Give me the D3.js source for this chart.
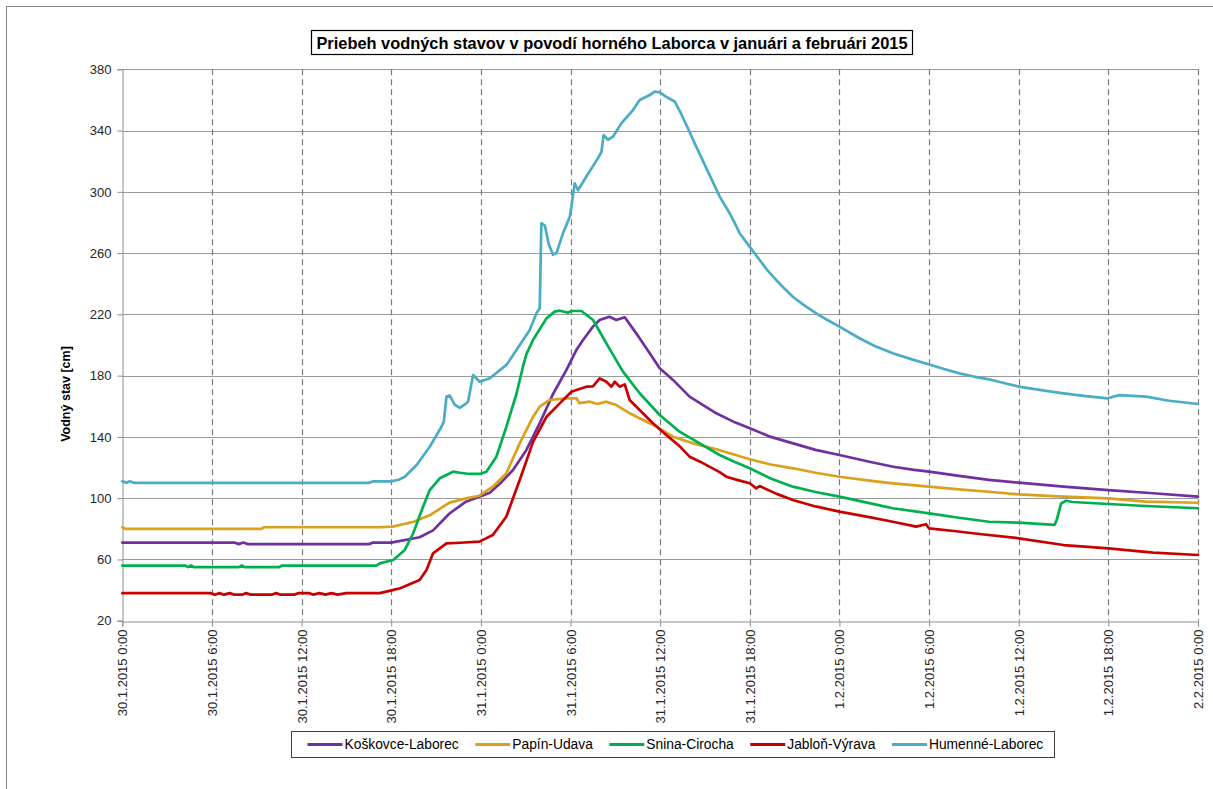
<!DOCTYPE html>
<html>
<head>
<meta charset="utf-8">
<script src="https://cdn.jsdelivr.net/npm/d3@7/dist/d3.min.js"></script>
<style>
  body { margin: 0; background: #fff; }
  svg { display: block; font-family: "Liberation Sans", Arial, sans-serif; }
</style>
</head>
<body>
<svg id="chart" width="1213" height="789"></svg>
<script>
// Water levels [cm] in the upper Laborec basin, 30.1.2015 0:00 – 2.2.2015 0:00.
// Each series: [hours since 30.1.2015 0:00, level in cm].
const chartTitle = "Priebeh vodných stavov v povodí horného Laborca v januári a februári 2015";
const yAxisTitle = "Vodný stav [cm]";

const timeLabels = [
  "30.1.2015 0:00", "30.1.2015 6:00", "30.1.2015 12:00", "30.1.2015 18:00",
  "31.1.2015 0:00", "31.1.2015 6:00", "31.1.2015 12:00", "31.1.2015 18:00",
  "1.2.2015 0:00", "1.2.2015 6:00", "1.2.2015 12:00", "1.2.2015 18:00",
  "2.2.2015 0:00"
];
const tickHours = [0, 6, 12, 18, 24, 30, 36, 42, 48, 54, 60, 66, 72];
const levelTicks = [20, 60, 100, 140, 180, 220, 260, 300, 340, 380];

const seriesNames = ["Koškovce-Laborec", "Papín-Udava", "Snina-Cirocha", "Jabloň-Výrava", "Humenné-Laborec"];
const seriesColors = ["#7030A0", "#D9A11C", "#00B050", "#C80000", "#4BACC6"];

const koskovce = [
  [0,71],[7.5,71],[7.8,70],[8.1,71],[8.4,70],[16.5,70],[16.8,71],[18,71],[19.9,74.5],[20.8,79],
  [21.9,90],[23,97.7],[23.9,101],[24.6,103.6],[25.3,109.7],[26.15,118.4],[27.05,131.5],[27.94,149],
  [28.83,168],[29.73,183.7],[30.39,196.7],[30.84,203.3],[31.5,212],[31.95,216.3],[32.6,218.5],
  [33.07,216.3],[33.63,218.1],[34.4,207.6],[35.3,194.6],[35.97,184.8],[36.86,177.2],[37.97,166.3],
  [39.76,155.4],[41,149.5],[42,145.6],[43.4,140],[44.9,135.8],[46.4,131.5],[48,128.2],[50,123.8],
  [51.6,120.5],[53,118.5],[54,117.3],[56,114.5],[58,111.9],[60,110.1],[63,107.5],[66,105.3],
  [69,103.2],[72,101]
];

const papin = [
  [0,81],[0.2,80],[9.3,80],[9.5,81],[17.2,81],[18.1,81.4],[19.5,84.6],[20.6,89],[21.9,97.1],
  [23,99.9],[23.9,101.6],[24.8,107.5],[25.7,116.2],[26.6,135.8],[27.5,153.2],[27.94,159.7],
  [28.6,164.1],[29.7,165.2],[30.4,165.2],[30.6,162],[31.3,163],[31.8,161.5],[32.4,163],
  [33.07,160.8],[33.96,155.4],[34.85,151],[35.75,146.7],[36.86,140.1],[38.2,135.8],[39.76,131.9],
  [41,128.3],[42,125.4],[43.4,122],[44.9,119.5],[46.4,116.6],[48,114],[50,111.5],[51.6,109.7],
  [54,107.5],[56,105.8],[58,104.2],[60,102.5],[63,101],[66,99.9],[68.5,97.7],[72,97]
];

const snina = [
  [0,56],[4.2,56],[4.4,55],[4.6,56],[4.8,55],[7.8,55],[8,56],[8.2,55],[10.5,55],[10.7,56],[17,56],
  [17.24,57.4],[18.13,59.6],[18.91,66.2],[19.47,77.1],[20.13,94.4],[20.58,105.3],[21.25,113],
  [22.14,117.3],[22.59,116.6],[23.26,115.8],[23.92,115.8],[24.37,117.3],[25.04,127.1],[25.71,146.7],
  [26.38,168],[26.82,186],[27.05,194],[27.49,203.3],[28.39,217.4],[28.94,221.8],[29.28,222.4],
  [29.83,221.1],[30.06,222.2],[30.73,222.2],[31.51,216.3],[32.4,201.1],[33.51,182.6],[34.63,168.5],
  [35.97,154.3],[37.3,143.4],[38.64,135.8],[39.98,128.2],[41,123.6],[42,119.5],[43.4,112.8],
  [44.88,107.5],[46.4,104],[48,101],[50,96.8],[51.57,93.4],[54,90.1],[56,87.2],[58,84.6],[60,84],
  [62.4,82.5],[62.54,85.7],[62.84,96.6],[63.17,98.3],[63.6,97.5],[66,96.2],[68.5,94.9],[72,93.4]
];

const jablon = [
  [0,38],[5.9,38],[6.2,37],[6.5,38],[6.8,37],[7.2,38],[7.5,37],[8,37],[8.3,38],[8.6,37],[10,37],
  [10.3,38],[10.6,37],[11.5,37],[11.8,38],[12.5,38],[12.8,37],[13.2,38],[13.6,37],[14,38],[14.4,37],
  [15,38],[17.24,38],[17.95,39.6],[18.6,41.2],[19.9,46.6],[20.36,53.1],[20.8,64],[21.7,70.5],
  [22.6,70.9],[23.9,71.6],[24.8,76],[25.7,87.9],[26.6,111.9],[27.5,136.9],[28.4,153.2],[29.28,161.9],
  [30.06,169.5],[30.4,170.6],[31.06,172.8],[31.5,173],[31.95,178.2],[32.4,176],[32.74,172.8],
  [32.96,176],[33.29,172.8],[33.63,174.3],[33.96,164.1],[34.63,157.6],[35.52,148.9],[36.41,141.2],
  [37.3,134],[37.97,127.1],[38.64,124],[39.98,117],[40.43,114],[41.2,111.8],[42,109.7],[42.43,106.4],
  [42.66,107.9],[43.8,102.8],[44.88,98.8],[46.4,94.6],[48,91.2],[50,87.6],[51.57,84.6],[53.14,81.4],
  [53.8,83],[54,80.3],[55.8,78.4],[57.37,76.6],[60,73.8],[63,69.4],[66,67.2],[69,64.4],[72,62.9]
];

const humenne = [
  [0,111],[0.3,110],[0.5,111],[0.8,110],[16.5,110],[16.8,111],[18,111],[18.5,112],[18.91,114],
  [19.7,121.7],[20.58,133.6],[21.36,146.6],[21.52,150],[21.7,166.3],[21.92,167],[22.25,161],
  [22.59,159],[22.9,161],[23.14,163],[23.48,180.4],[23.92,176],[24.6,178.3],[25.71,187],[26.38,196.7],
  [27.27,209.8],[27.72,220.7],[27.94,224],[28.05,279.5],[28.28,278],[28.54,266],[28.83,259],
  [29.06,260],[29.5,273],[29.95,283.8],[30.06,290.3],[30.28,305.6],[30.5,301],[31.06,310],
  [31.84,322],[32.07,326],[32.22,337],[32.51,334],[32.84,336],[33.4,344.7],[34.18,353.4],
  [34.63,360],[35.3,363.2],[35.63,365.4],[35.97,365],[36.41,362],[36.97,359],[37.4,351],[37.86,341.5],
  [38.31,331.7],[39.09,315.5],[39.98,297],[40.65,286],[41.0,279.5],[41.32,273],[41.99,264.2],
  [42.66,255.5],[43.2,248.5],[43.77,242.4],[44.3,237],[44.88,231.5],[45.6,226.2],[46.45,220.7],
  [47.2,216.3],[48,212],[49.34,204.4],[50.4,199.2],[51.57,194.6],[52.8,190.8],[53.96,187.4],
  [55,184.3],[56.03,181.5],[57,179.4],[58,177.6],[59,175.2],[60,172.8],[61.5,170.5],[63,168.4],
  [64.5,166.6],[65.95,165.2],[66.73,167.3],[68.52,166.3],[70.07,163.6],[72,161.5]
];

const seriesData = [koskovce, papin, snina, jablon, humenne];

const svg = d3.select("#chart");
const plot = { left: 122.3, right: 1198, top: 69.3, bottom: 620.7 };

const x = d3.scaleLinear().domain([0, 72]).range([plot.left, plot.right]);
const y = d3.scaleLinear().domain([20, 380]).range([plot.bottom, plot.top]);

// Outer chart frame (only its top and left edges fall inside the page)
svg.append("rect")
  .attr("x", 6.5).attr("y", 6.5).attr("width", 1300).attr("height", 900)
  .attr("fill", "#fff").attr("stroke", "#868686").attr("stroke-width", 1);

// Horizontal gridlines
svg.append("g").selectAll("line")
  .data(levelTicks.filter(v => v !== 20))
  .join("line")
  .attr("x1", plot.left).attr("x2", plot.right)
  .attr("y1", d => Math.round(y(d)) + 0.5).attr("y2", d => Math.round(y(d)) + 0.5)
  .attr("stroke", "#9a9a9a").attr("stroke-width", 1);

// Vertical dashed gridlines
svg.append("g").selectAll("line")
  .data(tickHours.filter(h => h !== 0))
  .join("line")
  .attr("x1", d => Math.round(x(d)) + 0.5).attr("x2", d => Math.round(x(d)) + 0.5)
  .attr("y1", plot.top).attr("y2", plot.bottom)
  .attr("stroke", "#7a7a7a").attr("stroke-width", 1.2)
  .attr("stroke-dasharray", "6,4");

// Y axis
const yAxis = svg.append("g")
  .attr("transform", `translate(${Math.round(plot.left) + 0.5},0)`)
  .call(d3.axisLeft(y).tickValues(levelTicks).tickSize(5).tickPadding(6).tickFormat(d3.format("d")));
yAxis.select(".domain").attr("stroke", "#8c8c8c");
yAxis.selectAll(".tick line").attr("stroke", "#8c8c8c");
yAxis.selectAll(".tick text")
  .attr("fill", "#262626").style("font-size", "13px")
  .style("font-family", "'Liberation Sans', Arial, sans-serif");

// X axis with rotated date labels
const xAxis = svg.append("g")
  .attr("transform", `translate(0,${Math.round(plot.bottom) + 0.5})`)
  .call(d3.axisBottom(x).tickValues(tickHours).tickSize(5)
    .tickFormat((d, i) => timeLabels[i]));
xAxis.select(".domain").attr("stroke", "#8c8c8c");
xAxis.selectAll(".tick line").attr("stroke", "#8c8c8c");
xAxis.selectAll(".tick text")
  .attr("fill", "#262626").style("font-size", "13px")
  .style("font-family", "'Liberation Sans', Arial, sans-serif")
  .attr("transform", "rotate(-90)")
  .attr("x", -8).attr("y", 0).attr("dy", "0.35em")
  .style("text-anchor", "end");

// Series lines
const line = d3.line().x(d => x(d[0])).y(d => y(d[1]));
svg.append("g").selectAll("path")
  .data(seriesData)
  .join("path")
  .attr("d", line)
  .attr("fill", "none")
  .attr("stroke", (d, i) => seriesColors[i])
  .attr("stroke-width", 2.7)
  .attr("stroke-linejoin", "round")
  .attr("stroke-linecap", "round");

// Y axis title
svg.append("text")
  .attr("transform", "translate(70,394) rotate(-90)")
  .attr("text-anchor", "middle")
  .style("font-size", "12.5px").style("font-weight", "bold")
  .attr("fill", "#000")
  .text(yAxisTitle);

// Chart title in a framed box
const titleG = svg.append("g");
const titleText = titleG.append("text")
  .attr("x", 612).attr("y", 48.5)
  .attr("text-anchor", "middle")
  .style("font-size", "16.4px").style("font-weight", "bold")
  .attr("fill", "#000")
  .text(chartTitle);
const tb = titleText.node().getBBox();
titleG.insert("rect", "text")
  .attr("x", Math.round(tb.x - 5) + 0.5).attr("y", 30.5)
  .attr("width", Math.round(tb.width + 10)).attr("height", 24)
  .attr("fill", "#fff").attr("stroke", "#000").attr("stroke-width", 1.2);

// Legend
const legend = svg.append("g");
const legendBox = legend.append("rect")
  .attr("y", 731.5).attr("height", 26)
  .attr("fill", "#fff").attr("stroke", "#404040").attr("stroke-width", 1);
let lx = 307.5;
const ly = 744.5;
seriesNames.forEach((name, i) => {
  legend.append("line")
    .attr("x1", lx).attr("x2", lx + 35).attr("y1", ly).attr("y2", ly)
    .attr("stroke", seriesColors[i]).attr("stroke-width", 3);
  const t = legend.append("text")
    .attr("x", lx + 37).attr("y", ly).attr("dy", "0.35em")
    .style("font-size", "13.8px").attr("fill", "#000")
    .text(name);
  lx = lx + 37 + t.node().getComputedTextLength() + 16.5;
});
legendBox.attr("x", 291.5).attr("width", Math.round(lx - 16.5 + 11 - 291.5));
</script>
</body>
</html>
